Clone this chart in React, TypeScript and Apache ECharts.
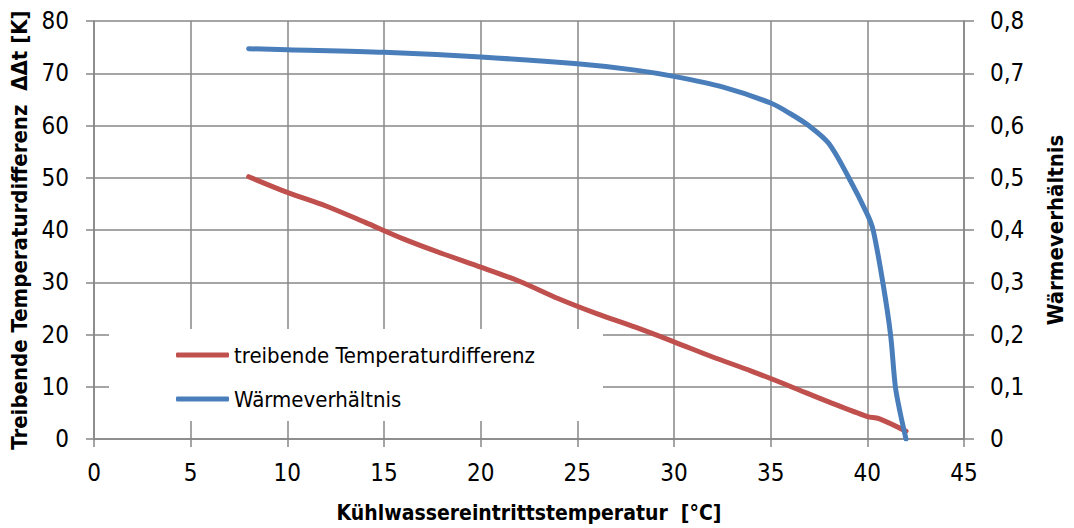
import React, { useEffect, useRef } from "react";
import * as echarts from "echarts";

const xTicks = [0, 5, 10, 15, 20, 25, 30, 35, 40, 45];
const leftTicks = [0, 10, 20, 30, 40, 50, 60, 70, 80];
const rightTicks = [0, 0.1, 0.2, 0.3, 0.4, 0.5, 0.6, 0.7, 0.8];

const diffX = [8, 10, 12, 14, 16, 18, 20, 22, 24, 26, 28, 30, 32, 34, 36, 38, 40, 40.6, 42];
const diffY = [50.2, 47.2, 44.6, 41.5, 38.3, 35.5, 32.9, 30.2, 26.9, 24.0, 21.4, 18.6, 15.7, 13.0, 10.1, 7.1, 4.3, 3.9, 1.5];

const ratioX = [8, 10, 15, 20, 25, 28, 30, 32.5, 35, 36, 37, 38, 39, 40, 40.3, 40.8, 41.2, 41.45, 41.7, 42];
const ratioY = [0.747, 0.745, 0.74, 0.731, 0.718, 0.706, 0.694, 0.674, 0.643, 0.623, 0.599, 0.566, 0.503, 0.43, 0.4, 0.3, 0.2, 0.1, 0.05, 0.0];

const seriesNames = ["treibende Temperaturdifferenz", "Wärmeverhältnis"];
const xTitle = "Kühlwassereintrittstemperatur  [°C]";
const leftTitle = "Treibende Temperaturdifferenz  ΔΔt [K]";
const rightTitle = "Wärmeverhältnis";

const FONT = '"DejaVu Sans Condensed", "Liberation Sans Narrow", "Roboto Condensed", sans-serif';
const GRAY = "#878787";

export default function App() {
  const ref = useRef<HTMLDivElement>(null);
  useEffect(() => {
    if (!ref.current) return;
    const chart = echarts.init(ref.current, null, { renderer: "svg" });
    const labelStyle = { color: "#000", fontSize: 24, fontFamily: FONT };
    const titleStyle = { color: "#000", fontSize: 22, fontWeight: "bold" as const, fontFamily: FONT };
    chart.setOption({
      animation: false,
      backgroundColor: "#fff",
      grid: { left: 94, right: 97, top: 21, bottom: 87, containLabel: false },
      xAxis: {
        type: "value",
        min: xTicks[0],
        max: xTicks[xTicks.length - 1],
        interval: 5,
        name: xTitle,
        nameLocation: "middle",
        nameGap: 63,
        nameTextStyle: { ...titleStyle, fontSize: 21 },
        axisLine: { show: true, lineStyle: { color: GRAY, width: 1.5 } },
        axisTick: { show: true, length: 8, lineStyle: { color: GRAY, width: 1.5 } },
        splitLine: { show: true, lineStyle: { color: GRAY, width: 1.5 } },
        axisLabel: { ...labelStyle, margin: 22 },
      },
      yAxis: [
        {
          type: "value",
          min: leftTicks[0],
          max: leftTicks[leftTicks.length - 1],
          interval: 10,
          position: "left",
          name: leftTitle,
          nameLocation: "middle",
          nameRotate: 90,
          nameGap: 61,
          nameTextStyle: titleStyle,
          axisLine: { show: true, lineStyle: { color: GRAY, width: 1.5 } },
          axisTick: { show: true, length: 8, lineStyle: { color: GRAY, width: 1.5 } },
          splitLine: { show: true, lineStyle: { color: GRAY, width: 1.5 } },
          axisLabel: { ...labelStyle, margin: 25 },
        },
        {
          type: "value",
          min: rightTicks[0],
          max: rightTicks[rightTicks.length - 1],
          interval: 0.1,
          position: "right",
          name: rightTitle,
          nameLocation: "middle",
          nameRotate: 90,
          nameGap: 80,
          nameTextStyle: titleStyle,
          axisLine: { show: true, lineStyle: { color: GRAY, width: 1.5 } },
          axisTick: { show: true, length: 10, lineStyle: { color: GRAY, width: 1.5 } },
          splitLine: { show: false },
          axisLabel: {
            ...labelStyle,
            margin: 26,
            formatter: (v: number) => (v === 0 ? "0" : v.toFixed(1).replace(".", ",")),
          },
        },
      ],
      graphic: [
        {
          type: "rect",
          z: 3,
          shape: { x: 109, y: 329, width: 494, height: 92 },
          style: { fill: "#fff" },
          silent: true,
        },
      ],
      legend: {
        orient: "vertical",
        left: 176,
        top: 344,
        padding: 0,
        itemGap: 22,
        itemWidth: 53,
        itemHeight: 5,
        icon: "roundRect",
        z: 5,
        textStyle: { color: "#000", fontSize: 22, fontFamily: FONT },
        data: seriesNames,
      },
      series: [
        {
          name: seriesNames[0],
          type: "line",
          yAxisIndex: 0,
          data: diffX.map((x, i) => [x, diffY[i]]),
          symbol: "none",
          smooth: 0.3,
          lineStyle: { color: "#C0504D", width: 5, cap: "round", join: "round" },
          itemStyle: { color: "#C0504D" },
          z: 4,
        },
        {
          name: seriesNames[1],
          type: "line",
          yAxisIndex: 1,
          data: ratioX.map((x, i) => [x, ratioY[i]]),
          symbol: "none",
          smooth: 0.3,
          lineStyle: { color: "#4A7EBB", width: 5, cap: "round", join: "round" },
          itemStyle: { color: "#4A7EBB" },
          z: 4,
        },
      ],
    });
    return () => chart.dispose();
  }, []);
  return (
    <div
      ref={ref}
      style={{ position: "fixed", left: 0, top: 0, width: 1074, height: 528, background: "#fff" }}
    />
  );
}
